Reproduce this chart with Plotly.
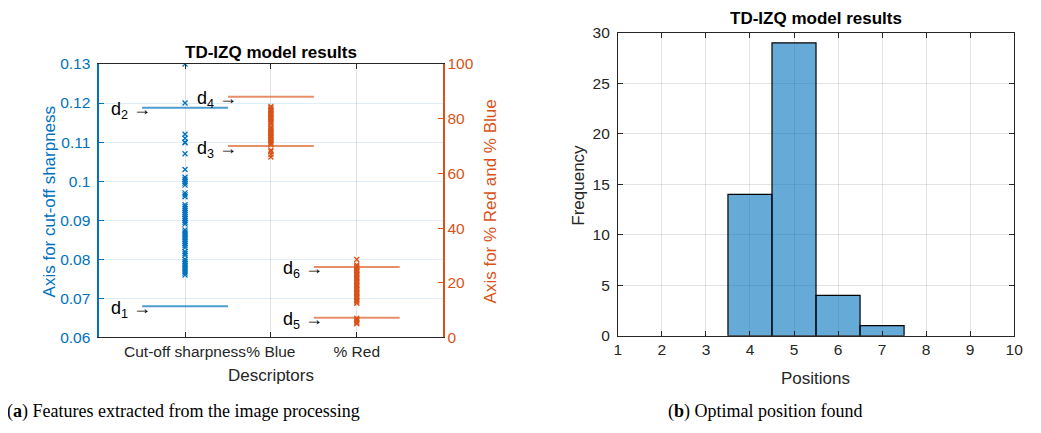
import plotly.graph_objects as go

# ---------------- data ----------------
categories = ["Cut-off sharpness", "% Blue", "% Red"]
cat_pos = [1, 2, 3]

sharpness = [0.1300, 0.1200, 0.1120, 0.1110, 0.1100, 0.1098, 0.1070, 0.1030,
             0.1010, 0.1005, 0.1000, 0.0995, 0.0990, 0.0970, 0.0965, 0.0960,
             0.0940, 0.0935, 0.0930, 0.0925, 0.0920, 0.0915, 0.0910, 0.0905,
             0.0900, 0.0895, 0.0890, 0.0875, 0.0870, 0.0865, 0.0860, 0.0855,
             0.0850, 0.0845, 0.0840, 0.0835, 0.0830, 0.0820, 0.0815, 0.0810,
             0.0800, 0.0795, 0.0790, 0.0785, 0.0780, 0.0775, 0.0770, 0.0765,
             0.0760]
pct_blue = [84.5, 84.0, 83.5, 83.0, 82.5, 82.0, 81.5, 81.0, 80.5, 80.0, 79.5,
            79.0, 78.5, 78.0, 77.0, 76.5, 76.0, 75.5, 75.0, 74.5, 74.0, 73.5,
            73.0, 72.5, 72.0, 71.5, 71.0, 70.5, 68.5, 68.0, 67.0, 66.0]
pct_red = [28.5, 26.5, 26.0, 25.5, 25.0, 24.5, 24.0, 23.5, 23.0, 22.5, 22.0,
           21.5, 21.0, 20.5, 20.0, 19.5, 19.0, 18.5, 18.0, 17.5, 17.0, 16.5,
           16.0, 15.5, 15.0, 14.5, 14.0, 13.5, 13.0, 12.5, 7.0, 6.5, 6.0, 5.5,
           5.0]

# thresholds d1..d6
thr_names = ["d1", "d2", "d3", "d4", "d5", "d6"]
thr_cat = [1, 1, 2, 2, 3, 3]
thr_vals = [0.068, 0.1188, 70.0, 88.0, 7.2, 25.8]

left_yticks = [0.06, 0.07, 0.08, 0.09, 0.10, 0.11, 0.12, 0.13]
left_yticklabels = ["0.06", "0.07", "0.08", "0.09", "0.1", "0.11", "0.12", "0.13"]

hist_positions = [4, 5, 6, 7]
hist_counts = [14, 29, 4, 1]

# ---------------- style ----------------
BLUE = "#0072BD"
ORANGE = "#D95319"
AX = "#262626"
FONT = "Liberation Sans, Arial, sans-serif"
TICK = 15.5
LAB = 17

fig = go.Figure()

fig.add_trace(go.Scatter(x=[cat_pos[0]] * len(sharpness), y=sharpness, mode="markers",
                         marker=dict(symbol="x-thin", size=5, line=dict(color=BLUE, width=1.3)),
                         xaxis="x", yaxis="y", showlegend=False))
fig.add_trace(go.Scatter(x=[cat_pos[1]] * len(pct_blue), y=pct_blue, mode="markers",
                         marker=dict(symbol="x-thin", size=5, line=dict(color=ORANGE, width=1.3)),
                         xaxis="x", yaxis="y2", showlegend=False))
fig.add_trace(go.Scatter(x=[cat_pos[2]] * len(pct_red), y=pct_red, mode="markers",
                         marker=dict(symbol="x-thin", size=5, line=dict(color=ORANGE, width=1.3)),
                         xaxis="x", yaxis="y2", showlegend=False))

annotations = []
for name, c, v in zip(thr_names, thr_cat, thr_vals):
    on_left = c == 1
    col = "rgba(0,114,189,0.7)" if on_left else "rgba(217,83,25,0.65)"
    yax = "y" if on_left else "y2"
    fig.add_trace(go.Scatter(x=[c - 0.5, c + 0.5], y=[v, v], mode="lines",
                             line=dict(color=col, width=2), xaxis="x", yaxis=yax,
                             showlegend=False, hoverinfo="skip"))
    annotations.append(dict(x=c - 0.37, y=v, xref="x", yref=yax, xanchor="right",
                            yanchor="middle", yshift=-3, showarrow=False,
                            text=f"d<sub>{name[1]}</sub> \u2192",
                            font=dict(family=FONT, size=18, color="black")))

fig.add_trace(go.Bar(x=hist_positions, y=hist_counts, width=1,
                     marker=dict(color="rgba(0,114,189,0.6)", line=dict(color="black", width=1.2)),
                     xaxis="x2", yaxis="y3", showlegend=False))

# positions are measured in the target picture; map them to the page as it is photographed
W, H = 1041, 433
def px(xp):
    return ((xp - 10.3) / 0.99) / W
def py(yp):
    return 1 - ((yp - 17.5) / 0.957) / H

common_ax = dict(showline=True, ticks="inside", ticklen=5, zeroline=False)

fig.update_layout(
    width=W, height=H, margin=dict(l=0, r=0, t=0, b=0),
    paper_bgcolor="white", plot_bgcolor="white",
    font=dict(family=FONT, size=TICK, color=AX),
    xaxis=dict(domain=[px(97.7), px(442)], range=[0, 4], tickvals=cat_pos, ticktext=categories,
               anchor="y", mirror="ticks", linecolor=AX, tickcolor=AX, linewidth=1, tickangle=0,
               showgrid=True, gridcolor="rgba(38,38,38,0.13)",
               tickfont=dict(size=TICK, color=AX), **common_ax),
    yaxis=dict(domain=[py(336.7), py(64.3)], range=[0.06, 0.13], tickvals=left_yticks,
               ticktext=left_yticklabels, anchor="x", linecolor=BLUE, tickcolor=BLUE, linewidth=1.5,
               showgrid=True, gridcolor="rgba(0,114,189,0.13)", ticklabelstandoff=4,
               tickfont=dict(size=TICK, color=BLUE), **common_ax),
    yaxis2=dict(range=[0, 100], dtick=20, overlaying="y", side="right", anchor="x",
                linecolor=ORANGE, tickcolor=ORANGE, linewidth=1.5, showgrid=False,
                tickfont=dict(size=TICK, color=ORANGE), **common_ax),
    xaxis2=dict(domain=[px(617.7), px(1015)], range=[1, 10], dtick=1, anchor="y3",
                mirror="ticks", linecolor=AX, tickcolor=AX, linewidth=1, tickangle=0,
                showgrid=True, gridcolor="rgba(38,38,38,0.13)",
                tickfont=dict(size=TICK, color=AX), **common_ax),
    yaxis3=dict(domain=[py(335), py(33.3)], range=[0, 30], dtick=5, anchor="x2",
                mirror="ticks", linecolor=AX, tickcolor=AX, linewidth=1,
                showgrid=True, gridcolor="rgba(38,38,38,0.13)", ticklabelstandoff=4,
                tickfont=dict(size=TICK, color=AX), **common_ax),
)

labels = [
    dict(x=px(270), y=py(52.7), text="<b>TD-IZQ model results</b>",
         font=dict(size=LAB, color="black")),
    dict(x=px(48.3), y=py(201.3), text="Axis for cut-off sharpness", textangle=-90,
         font=dict(size=LAB, color=BLUE)),
    dict(x=px(490), y=py(200.7), text="Axis for % Red and % Blue", textangle=-90,
         font=dict(size=LAB, color=ORANGE)),
    dict(x=px(270), y=py(374.3), text="Descriptors", font=dict(size=LAB, color=AX)),
    dict(x=px(816), y=py(19.3), text="<b>TD-IZQ model results</b>",
         font=dict(size=LAB, color="black")),
    dict(x=px(578.3), y=py(185), text="Frequency", textangle=-90,
         font=dict(size=LAB, color=AX)),
    dict(x=px(816), y=py(378), text="Positions", font=dict(size=LAB, color=AX)),
    dict(x=px(182), y=py(410), text="(<b>a</b>) Features extracted from the image processing",
         font=dict(family="Liberation Serif, serif", size=18, color="black")),
    dict(x=px(766), y=py(410), text="(<b>b</b>) Optimal position found",
         font=dict(family="Liberation Serif, serif", size=18, color="black")),
]
for a in labels:
    a.update(xref="paper", yref="paper", showarrow=False, xanchor="center", yanchor="middle")
    a["font"].setdefault("family", FONT)

fig.update_layout(annotations=annotations + labels)
fig.write_html("out.html")
